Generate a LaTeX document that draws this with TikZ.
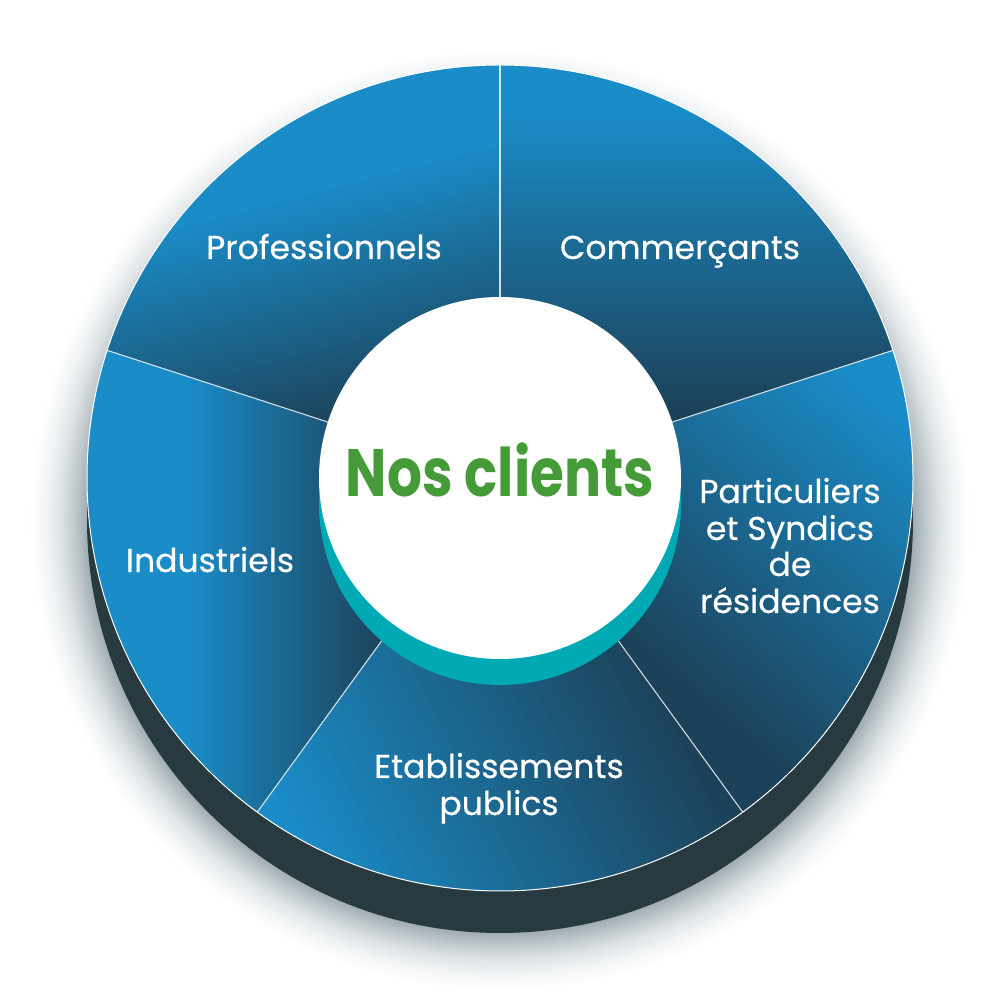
\documentclass[tikz,border=0pt]{standalone}
\usepackage{fontspec}
\setmainfont{Poppins}
\newfontfamily\lblfont{Poppins}[FakeBold=0.4]
\definecolor{slight}{HTML}{1A8DC9}
\definecolor{sdark}{HTML}{1C4259}
\definecolor{rimdark}{HTML}{263A3F}
\definecolor{tealc}{HTML}{00AAB5}
\definecolor{greenc}{HTML}{459B37}
\definecolor{shd0}{HTML}{A0ADB2}
\definecolor{shd1}{HTML}{BFC8CC}
\definecolor{shd2}{HTML}{DFE4E6}
\definecolor{shd3}{HTML}{F3F5F6}
\pgfdeclareradialshading{softshadow}{\pgfpoint{0bp}{0bp}}{color(0bp)=(shd0); color(21.97bp)=(shd0); color(22.61bp)=(shd1); color(23.40bp)=(shd2); color(24.20bp)=(shd3); color(25bp)=(white); color(50bp)=(white)}
% #1 start angle, #2 end angle, #3 #4 gradient centre, #5 direction of the light side, #6 length of the gradient
\newcommand\slicefill[6]{%
  \begin{scope}
    \clip (C) -- ++(#1:413) arc[start angle=#1, end angle=#2, radius=413] -- cycle;
    \begin{scope}[overlay, shift={(#3,#4)}, rotate=#5]
      \pgfmathsetmacro\bandw{#6/60}
      \pgfmathsetmacro\halft{#6/2}
      \fill[sdark] (-900,-900) rectangle ({-\halft+0.5}, 900);
      \fill[slight] ({\halft-0.5},-900) rectangle (900,900);
      \foreach \i in {0,...,59} {
        \pgfmathtruncatemacro\pct{100*(\i+0.5)/60}
        \fill[slight!\pct!sdark] ({-\halft+\bandw*\i-0.4}, -900) rectangle ({-\halft+\bandw*(\i+1)+0.4}, 900);
      }
    \end{scope}
  \end{scope}}
\begin{document}
\begin{tikzpicture}[x=1pt,y=1pt,
  lbl/.style={text=white, font=\lblfont\fontsize{33}{37}\selectfont, inner sep=0pt, anchor=base},
  sepline/.style={draw=white, line width=1.1pt, opacity=0.8}]
\useasboundingbox (0,0) rectangle (1000,1000);
\fill[white] (0,0) rectangle (1000,1000);
% soft drop shadow and dark rim
\shade[shading=softshadow] (500,480) circle[radius=470];
\fill[rimdark] (500,480) circle[radius=413];
\coordinate (C) at (500,522);
% five slices
\slicefill{18}{90}{650}{740}{90}{300}
\slicefill{90}{162}{330}{695}{104.6}{238}
\slicefill{162}{234}{285}{440}{180}{200}
\slicefill{-54}{18}{780}{460}{49.6}{349}
\slicefill{-126}{-54}{475}{238.5}{207.6}{395}
% separators and rim outline
\foreach \a in {90,18,-54,-126,162} \draw[sepline] (C) -- ++(\a:413);
\draw[white, line width=1pt] (C) circle[radius=413];
% centre disc
\fill[tealc] (500,496) circle[radius=181];
\fill[white] (C) circle[radius=181];
% texts
\node[text=greenc, font=\bfseries\fontsize{67}{72}\selectfont, anchor=base, inner sep=0pt, xscale=0.82] (title) at (500,503) {Nos clients};
\node[lbl] (prof) at (324,741) {Professionnels};
\node[lbl] (comm) at (680,741) {Commerçants};
\node[lbl] (indu) at (210,428) {Industriels};
\node[lbl] (part1) at (790,497) {Particuliers};
\node[lbl] (part2) at (790,460) {et Syndics};
\node[lbl] (part3) at (790,424) {de};
\node[lbl] (part4) at (790,387) {résidences};
\node[lbl] (etab1) at (499,222) {Etablissements};
\node[lbl] (etab2) at (499,185) {publics};
\end{tikzpicture}
\end{document}
